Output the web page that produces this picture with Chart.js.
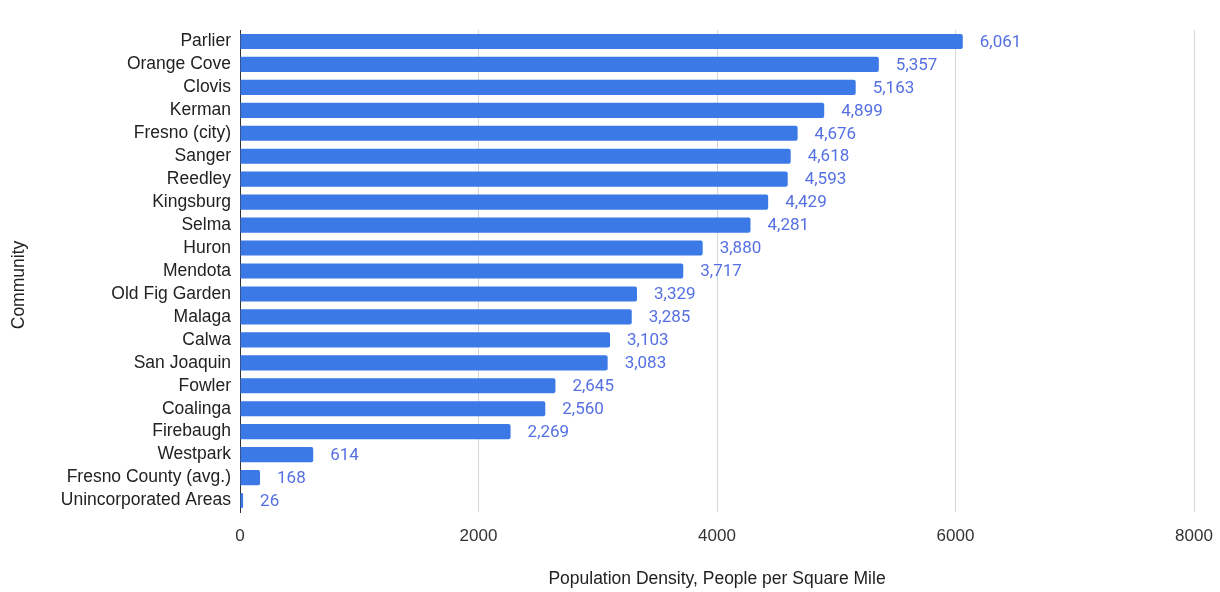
<!DOCTYPE html>
<html>
<head>
<meta charset="utf-8">
<script src="https://cdn.jsdelivr.net/npm/chart.js@4"></script>
<style>
html,body{margin:0;padding:0;background:#fff;}
#wrap{width:1220px;height:592px;position:relative;}
</style>
</head>
<body>
<div id="wrap"><canvas id="c" width="1220" height="592"></canvas></div>
<script>
const categories = ["Parlier","Orange Cove","Clovis","Kerman","Fresno (city)","Sanger","Reedley","Kingsburg","Selma","Huron","Mendota","Old Fig Garden","Malaga","Calwa","San Joaquin","Fowler","Coalinga","Firebaugh","Westpark","Fresno County (avg.)","Unincorporated Areas"];
const densityValues = [6061,5357,5163,4899,4676,4618,4593,4429,4281,3880,3717,3329,3285,3103,3083,2645,2560,2269,614,168,26];
const xTickValues = [0,2000,4000,6000,8000];
const xAxisTitle = "Population Density, People per Square Mile";
const yAxisTitle = "Community";

const FONT = '"Liberation Sans", Arial, sans-serif';

const valueLabels = {
  id: 'valueLabels',
  afterDatasetsDraw(chart) {
    const ctx = chart.ctx;
    const meta = chart.getDatasetMeta(0);
    ctx.save();
    ctx.font = '17px Roboto, "Liberation Sans", sans-serif';
    ctx.fillStyle = '#5570e2';
    ctx.textAlign = 'left';
    ctx.textBaseline = 'middle';
    meta.data.forEach((bar, i) => {
      ctx.fillText(densityValues[i].toLocaleString('en-US'), bar.x + 17, bar.y + 1);
    });
    // y axis title
    ctx.font = '17.5px ' + FONT;
    ctx.fillStyle = '#222';
    ctx.textAlign = 'center';
    ctx.translate(19, 285);
    ctx.rotate(-Math.PI / 2);
    ctx.fillText(yAxisTitle, 0, 0);
    ctx.restore();
  }
};

new Chart(document.getElementById('c'), {
  type: 'bar',
  data: {
    labels: categories,
    datasets: [{
      data: densityValues,
      backgroundColor: '#3b79e6',
      borderRadius: 2,
      borderSkipped: 'start',
      barPercentage: 0.66,
      categoryPercentage: 1.0
    }]
  },
  options: {
    indexAxis: 'y',
    responsive: false,
    animation: false,
    layout: { padding: { top: 30, right: 26, left: 0, bottom: 0 } },
    plugins: { legend: { display: false }, tooltip: { enabled: false } },
    scales: {
      x: {
        min: 0, max: 8000,
        afterBuildTicks(scale) { scale.ticks = xTickValues.map(v => ({ value: v })); },
        afterFit(scale) { scale.height = 80; scale.paddingRight = 0; scale.paddingLeft = 0; },
        grid: { color: '#d6d6d6', lineWidth: 1, drawTicks: false },
        border: { display: false },
        ticks: { padding: 14, color: '#333', font: { family: FONT, size: 17 }, callback: v => String(v) },
        title: { display: true, text: xAxisTitle, color: '#222', font: { family: FONT, size: 17.5 }, padding: { top: 0, bottom: 2 } }
      },
      y: {
        afterFit(scale) { scale.width = 240; scale.paddingTop = 0; scale.paddingBottom = 0; },
        grid: { display: false, drawTicks: false },
        border: { display: true, color: '#333', width: 1 },
        ticks: { autoSkip: false, padding: 9, color: '#222', font: { family: FONT, size: 17.5 } },
        title: { display: false, text: yAxisTitle }
      }
    }
  },
  plugins: [valueLabels]
});
</script>
</body>
</html>
